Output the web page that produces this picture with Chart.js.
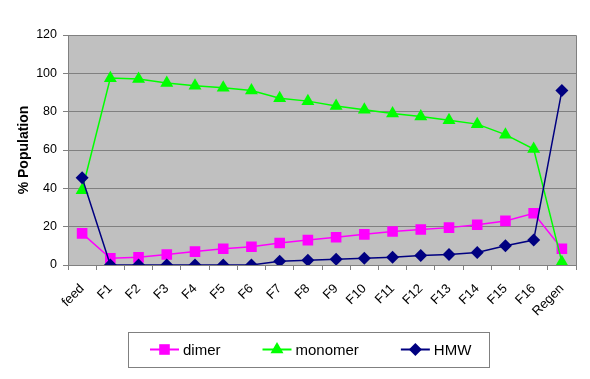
<!DOCTYPE html>
<html>
<head>
<meta charset="utf-8">
<script src="https://cdn.jsdelivr.net/npm/chart.js@4.4.1/dist/chart.umd.min.js"></script>
<style>
  html, body { margin: 0; padding: 0; background: #ffffff; }
  #wrap { width: 590px; height: 379px; position: relative; }
</style>
</head>
<body>
<div id="wrap"><canvas id="c"></canvas></div>
<script>
const categories = ['feed','F1','F2','F3','F4','F5','F6','F7','F8','F9','F10','F11','F12','F13','F14','F15','F16','Regen'];
const dimer   = [16.5, 3.5, 4, 5.5, 7, 8.5, 9.5, 11.5, 13, 14.5, 16, 17.5, 18.5, 19.5, 21, 23, 27, 8.5];
const monomer = [39, 97.5, 97, 95, 93.5, 92.5, 91, 87, 85.5, 83, 81, 79, 77.5, 75.5, 73.5, 68, 60.5, 1.5];
const hmw     = [45.5, 0, 0, 0, 0, 0, 0, 2, 2.5, 3, 3.5, 4, 5, 5.5, 6.5, 10, 13, 91];
const yTicks  = [0, 20, 40, 60, 80, 100, 120];
const seriesNames = ['dimer', 'monomer', 'HMW'];
const yTitle = '% Population';

const FONT = '"Liberation Sans", Arial, sans-serif';
const GRID = '#808080';

function drawMarker(ctx, style, x, y, r, color) {
  ctx.save();
  ctx.fillStyle = color;
  ctx.beginPath();
  if (style === 'rect') {
    const s = Math.SQRT1_2 * r;
    ctx.rect(x - s, y - s, 2 * s, 2 * s);
  } else if (style === 'triangle') {
    ctx.moveTo(x, y - r);
    ctx.lineTo(x + r * 0.866, y + r * 0.5);
    ctx.lineTo(x - r * 0.866, y + r * 0.5);
    ctx.closePath();
  } else {
    ctx.moveTo(x, y - r);
    ctx.lineTo(x + r, y);
    ctx.lineTo(x, y + r);
    ctx.lineTo(x - r, y);
    ctx.closePath();
  }
  ctx.fill();
  ctx.restore();
}

const decor = {
  id: 'decor',
  beforeDraw(chart) {
    const {ctx, chartArea: a} = chart;
    ctx.save();
    ctx.fillStyle = '#C0C0C0';
    ctx.fillRect(a.left, a.top, a.right - a.left, a.bottom - a.top);
    ctx.restore();
  },
  beforeDatasetsDraw(chart) {
    const {ctx, chartArea: a} = chart;
    ctx.save();
    ctx.strokeStyle = GRID;
    ctx.lineWidth = 1;
    ctx.beginPath();
    ctx.moveTo(a.left, a.top + 0.5);
    ctx.lineTo(a.right + 0.5, a.top + 0.5);
    ctx.lineTo(a.right + 0.5, a.bottom);
    ctx.stroke();
    ctx.restore();
  },
  afterDraw(chart) {
    const ctx = chart.ctx;
    const bx = 128, by = 332, bw = 361, bh = 35;
    ctx.save();
    ctx.fillStyle = '#ffffff';
    ctx.fillRect(bx, by, bw, bh);
    ctx.strokeStyle = '#808080';
    ctx.lineWidth = 1;
    ctx.strokeRect(bx + 0.5, by + 0.5, bw, bh);
    ctx.font = '15px ' + FONT;
    ctx.textBaseline = 'middle';
    ctx.textAlign = 'left';
    let x = 150;
    const cy = by + bh / 2;
    const legendOrder = [0, 1, 2];
    legendOrder.forEach(i => {
      const ds = chart.data.datasets[i];
      ctx.strokeStyle = ds.borderColor;
      ctx.lineWidth = 2;
      ctx.beginPath();
      ctx.moveTo(x, cy);
      ctx.lineTo(x + 29, cy);
      ctx.stroke();
      drawMarker(ctx, ds.pointStyle, x + 14.5, cy, ds.pointRadius, ds.pointBackgroundColor);
      ctx.fillStyle = '#000000';
      ctx.fillText(ds.label, x + 33, cy + 1);
      x += 33 + ctx.measureText(ds.label).width + 42;
    });
    ctx.restore();
  }
};

new Chart(document.getElementById('c'), {
  type: 'line',
  data: {
    labels: categories,
    datasets: [
      { label: seriesNames[0], data: dimer, borderColor: '#FF00FF', backgroundColor: '#FF00FF',
        pointBackgroundColor: '#FF00FF', pointBorderColor: '#FF00FF', pointStyle: 'rect',
        pointRadius: 7.5, pointBorderWidth: 0, borderWidth: 1.5, order: 2 },
      { label: seriesNames[1], data: monomer, borderColor: '#00FF00', backgroundColor: '#00FF00',
        pointBackgroundColor: '#00FF00', pointBorderColor: '#00FF00', pointStyle: 'triangle',
        pointRadius: 7.5, pointBorderWidth: 0, borderWidth: 1.5, order: 1 },
      { label: seriesNames[2], data: hmw, borderColor: '#000080', backgroundColor: '#000080',
        pointBackgroundColor: '#000080', pointBorderColor: '#000080', pointStyle: 'rectRot',
        pointRadius: 6.5, pointBorderWidth: 0, borderWidth: 1.5, order: 0 }
    ]
  },
  options: {
    responsive: true,
    maintainAspectRatio: false,
    animation: false,
    events: [],
    layout: { padding: { left: 12, right: 14, top: 35, bottom: 0 } },
    plugins: { legend: { display: false }, tooltip: { enabled: false } },
    elements: { line: { tension: 0 } },
    scales: {
      x: {
        type: 'category',
        offset: true,
        grid: { offset: true, drawOnChartArea: false, drawTicks: true, tickLength: 5, color: GRID },
        border: { color: GRID, width: 1 },
        ticks: { color: '#000000', font: { family: FONT, size: 13 }, minRotation: 45, maxRotation: 45,
                 padding: 11, autoSkip: false },
        afterFit(scale) { scale.height = 114; }
      },
      y: {
        min: 0, max: 120,
        afterBuildTicks(scale) { scale.ticks = yTicks.map(v => ({ value: v })); },
        grid: { color: GRID, tickLength: 5, lineWidth: 1 },
        border: { color: GRID, width: 1 },
        ticks: { color: '#000000', font: { family: FONT, size: 12.5 }, padding: 6 },
        title: { display: true, text: yTitle, color: '#000000', font: { family: FONT, size: 14, weight: 'bold' },
                 padding: { top: 4, bottom: 4 } },
        afterFit(scale) { scale.width = 56; }
      }
    }
  },
  plugins: [decor]
});
</script>
</body>
</html>
